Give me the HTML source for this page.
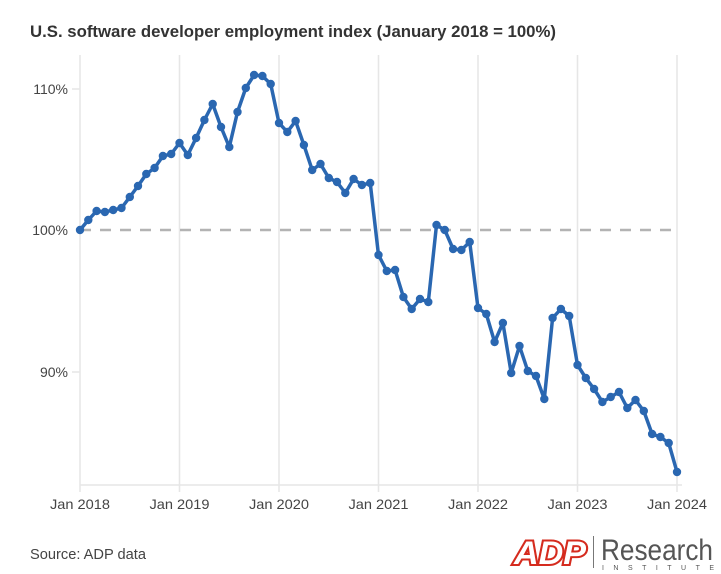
<!DOCTYPE html>
<html><head><meta charset="utf-8"><style>
html,body{margin:0;padding:0;background:#fff;}
svg{display:block;font-family:"Liberation Sans",sans-serif;}
</style></head><body>
<svg id="s" width="721" height="574" viewBox="0 0 721 574" xmlns="http://www.w3.org/2000/svg">
<text x="30" y="37" font-size="17" font-weight="bold" fill="#333" textLength="526" lengthAdjust="spacingAndGlyphs">U.S. software developer employment index (January 2018 = 100%)</text>
<g stroke="#e6e6e6" stroke-width="1.5">
<line x1="80" y1="55" x2="80" y2="492"/>
<line x1="179.5" y1="55" x2="179.5" y2="492"/>
<line x1="279" y1="55" x2="279" y2="492"/>
<line x1="378.5" y1="55" x2="378.5" y2="492"/>
<line x1="478" y1="55" x2="478" y2="492"/>
<line x1="577.5" y1="55" x2="577.5" y2="492"/>
<line x1="677" y1="55" x2="677" y2="492"/>
<line x1="80" y1="485" x2="682" y2="485"/>
<line x1="72" y1="89" x2="80" y2="89"/>
<line x1="72" y1="372" x2="80" y2="372"/>
</g>
<line x1="80" y1="230" x2="677" y2="230" stroke="#b3b3b3" stroke-width="2.5" stroke-dasharray="11,9"/>
<g font-size="14" fill="#444" text-anchor="end">
<text x="68" y="94">110%</text>
<text x="68" y="235">100%</text>
<text x="68" y="377">90%</text>
</g>
<g font-size="14" fill="#444" text-anchor="middle">
<text x="80" y="509" textLength="60" lengthAdjust="spacingAndGlyphs">Jan 2018</text>
<text x="179.5" y="509" textLength="60" lengthAdjust="spacingAndGlyphs">Jan 2019</text>
<text x="279" y="509" textLength="60" lengthAdjust="spacingAndGlyphs">Jan 2020</text>
<text x="378.5" y="509" textLength="60" lengthAdjust="spacingAndGlyphs">Jan 2021</text>
<text x="478" y="509" textLength="60" lengthAdjust="spacingAndGlyphs">Jan 2022</text>
<text x="577.5" y="509" textLength="60" lengthAdjust="spacingAndGlyphs">Jan 2023</text>
<text x="677" y="509" textLength="60" lengthAdjust="spacingAndGlyphs">Jan 2024</text>
</g>
<text x="30" y="559" font-size="15" fill="#444" textLength="116" lengthAdjust="spacingAndGlyphs">Source: ADP data</text>
<g id="plot"></g>
<text x="514" y="564" font-size="32" font-weight="bold" font-style="italic" fill="#fff" stroke="#d52b1e" stroke-width="4" paint-order="stroke" textLength="72" lengthAdjust="spacingAndGlyphs">ADP</text>
<line x1="593.5" y1="536" x2="593.5" y2="568" stroke="#777" stroke-width="1"/>
<text x="601" y="560" font-size="30" fill="#555" textLength="112" lengthAdjust="spacingAndGlyphs">Research</text>
<text x="602" y="570" font-size="7" fill="#555" textLength="112" lengthAdjust="spacing">INSTITUTE</text>
</svg>
<script>
var ys=[230,220,211,212,210,208,197,186,174,168,156,154,143,155,138,120,104,127,147,112,88,75,76,84,123,132,121,145,170,164,178,182,193,179,185,183,255,271,270,297,309,299,302,225,230,249,250,242,308,314,342,323,373,346,371,376,399,318,309,316,365,378,389,402,397,392,408,400,411,434,437,443,472];
var ns="http://www.w3.org/2000/svg",g=document.getElementById("plot"),pts=[];
for(var i=0;i<ys.length;i++){pts.push((80+i*597/72).toFixed(1)+","+ys[i]);}
var pl=document.createElementNS(ns,"polyline");
pl.setAttribute("points",pts.join(" "));pl.setAttribute("fill","none");pl.setAttribute("stroke","#2a67b1");pl.setAttribute("stroke-width","3.5");pl.setAttribute("stroke-linejoin","round");
g.appendChild(pl);
for(var i=0;i<ys.length;i++){var c=document.createElementNS(ns,"circle");c.setAttribute("cx",(80+i*597/72).toFixed(1));c.setAttribute("cy",ys[i]);c.setAttribute("r","4.2");c.setAttribute("fill","#2a67b1");g.appendChild(c);}
</script>
</body></html>
